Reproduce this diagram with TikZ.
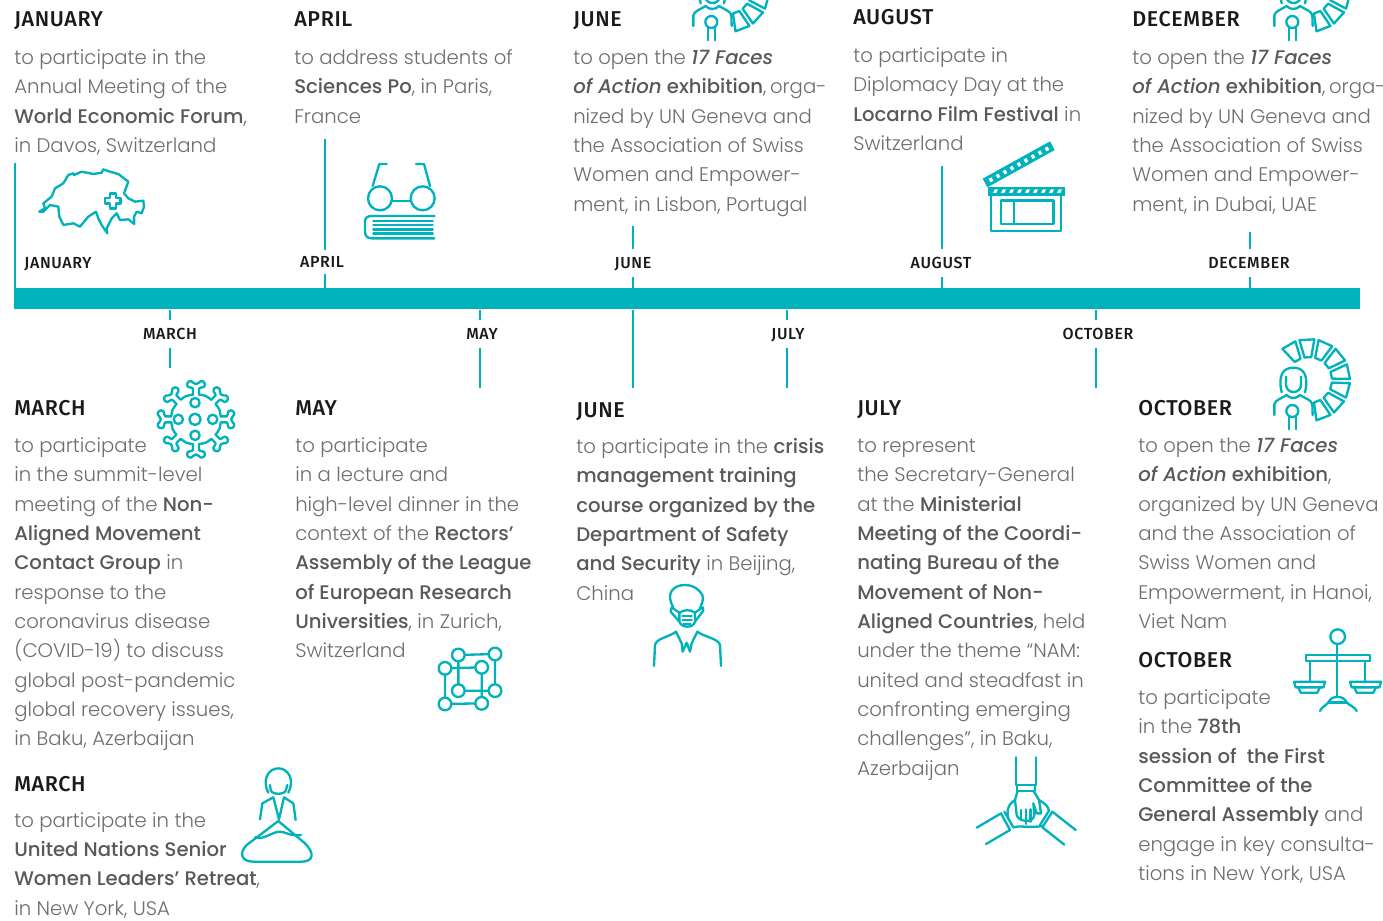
\documentclass[tikz,border=0pt]{standalone}
\usepackage{fontspec}
\setmainfont{Poppins}[UprightFont=* Light,ItalicFont=* Light Italic,BoldFont=* Medium,BoldItalicFont=* Medium Italic]
\newfontfamily\headfont{Fira Sans}[UprightFont=* Medium,LetterSpace=3]
\newfontfamily\tickfont{Fira Sans}[UprightFont=* Medium,LetterSpace=4]
\definecolor{teal1}{HTML}{00B2BB}
\definecolor{txtgrey}{HTML}{6D6E71}
\definecolor{boldgrey}{HTML}{58595B}
\definecolor{headblack}{HTML}{1A1A1A}
\newcommand{\fst}{\rule{0pt}{14pt}}
\newcommand{\bb}[1]{\textbf{\color{boldgrey}#1}}
\newcommand{\bi}[1]{\textbf{\itshape\color{boldgrey}#1}}
\tikzset{
 bodytext/.style={anchor=north west,inner sep=0pt,align=left,text=txtgrey,font=\fontsize{14.75}{22}\selectfont},
 heading/.style={anchor=base west,inner sep=0pt,text=headblack,font=\headfont\fontsize{16.1}{18}\selectfont},
 tlabel/.style={inner sep=0pt,minimum height=21pt,text height=8.6pt,text depth=0pt,text=headblack,font=\tickfont\fontsize{12}{13}\selectfont},
 tickline/.style={draw=teal1,line width=1.1pt},
 icon/.style={draw=teal1,line width=1.75pt,line join=round,line cap=round},
 barstyle/.style={fill=teal1,inner sep=0pt,minimum width=1009.5pt,minimum height=15.75pt,anchor=north west}
}
\newcommand{\blk}[4]{\node[bodytext] (#1) at (#2,#3-18.3) {\fst #4};}
\newcommand{\hd}[4]{\node[heading] (#1) at (#2,#3) {#4};}
\newcommand{\wheelperson}[1]{%
 \begin{scope}[shift={#1}]
  \begin{scope}[shift={(1309,380)}]
   \foreach \t in {-30,-3,24,51,78,105,132,159}{
    \draw[icon] ({\t-90-8.5}:23) -- ({\t-90-10.5}:41) -- ({\t-90+10.5}:41) -- ({\t-90+8.5}:23) -- cycle;
   }
  \end{scope}
  \begin{scope}[shift={(1265,335)},scale=1/3]
   \draw[icon] (50,172) .. controls (38,120) and (55,98) .. (85,98) .. controls (115,98) and (132,120) .. (120,172);
   \draw[icon] (63,125) -- (63,150) .. controls (65,178) and (106,178) .. (108,150) -- (108,125);
   \draw[icon] (28,240) -- (28,208) .. controls (30,195) and (50,190) .. (65,180) .. controls (75,192) and (95,192) .. (105,180) .. controls (120,190) and (140,195) .. (142,208) -- (143,240);
   \draw[icon] (82,228) circle[radius=18];
   \draw[icon] (72,246) -- (72,283) (92,246) -- (92,283);
  \end{scope}
 \end{scope}}
\begin{document}
\begin{tikzpicture}[x=0.75pt,y=-0.75pt]
\clip (0,0) rectangle (1383,920);
\fill[white] (0,0) rectangle (1383,920);

% Timeline bar
\node[barstyle] (bar) at (14,288) {};

% Tick labels
\node[tlabel] (lJan) at (58,263) {JANUARY};
\node[tlabel,minimum height=18pt] (lApr) at (322,262) {APRIL};
\node[tlabel] (lJun) at (633,263) {JUNE};
\node[tlabel] (lAug) at (941,263) {AUGUST};
\node[tlabel] (lDec) at (1249,263) {DECEMBER};
\node[tlabel] (lMar) at (170,334) {MARCH};
\node[tlabel] (lMay) at (482,334) {MAY};
\node[tlabel] (lJul) at (788,334) {JULY};
\node[tlabel] (lOct) at (1098,334) {OCTOBER};

% Tick ends
\coordinate (jan) at (15,163);
\coordinate (apr) at (325,139);
\coordinate (jun) at (633,226);
\coordinate (aug) at (942,166);
\coordinate (dec) at (1250,232);
\coordinate (mar) at (170,368);
\coordinate (may) at (480,388);
\coordinate (jun2) at (633,388);
\coordinate (jul) at (787,388);
\coordinate (oct) at (1096,388);

\draw[tickline] (jan) -- (bar.north -| jan);
\foreach \c/\l in {apr/lApr,jun/lJun,aug/lAug,dec/lDec}{
 \draw[tickline] (\c) -- (\l.north -| \c);
 \draw[tickline] (\l.south -| \c) -- (bar.north -| \c);
}
\foreach \c/\l in {mar/lMar,may/lMay,jul/lJul,oct/lOct}{
 \draw[tickline] (\c) -- (\l.south -| \c);
 \draw[tickline] (\l.north -| \c) -- (bar.south -| \c);
}
\draw[tickline] (jun2) -- (bar.south -| jun2);

% Top texts
\hd{hJan}{14}{27}{JANUARY}
\blk{bJan}{14}{64}{to participate in the\\Annual Meeting of the\\\bb{World Economic Forum},\\in Davos, Switzerland}
\hd{hApr}{294}{27}{APRIL}
\blk{bApr}{294}{64}{to address students of\\\bb{Sciences Po}, in Paris,\\France}
\hd{hJun}{573}{27}{JUNE}
\blk{bJun}{573}{64}{to open the \bi{17 Faces}\\\bi{of Action} \bb{exhibition}, \hspace{-1.5pt}orga-\\nized by UN Geneva and\\the Association of Swiss\\Women and Empower-\\ment, in Lisbon, Portugal}
\hd{hAug}{853}{25}{AUGUST}
\blk{bAug}{853}{62}{to participate in\\Diplomacy Day at the\\\bb{Locarno Film Festival} in\\Switzerland}
\hd{hDec}{1132}{27}{DECEMBER}
\blk{bDec}{1132}{64}{to open the \bi{17 Faces}\\\bi{of Action} \bb{exhibition}, \hspace{-1.5pt}orga-\\nized by UN Geneva and\\the Association of Swiss\\Women and Empower-\\ment, in Dubai, UAE}

% Bottom texts
\hd{hMar}{14}{415}{MARCH}
\blk{bMar}{14}{452}{to participate\\in the summit-level\\meeting of the \bb{Non-}\\\bb{Aligned Movement}\\\bb{Contact Group} in\\response to the\\coronavirus disease\\(COVID-19) to discuss\\global post-pandemic\\global recovery issues,\\in Baku, Azerbaijan}
\hd{hMarB}{14}{791}{MARCH}
\blk{bMarB}{14}{826.5}{to participate in the\\\bb{United Nations Senior}\\\bb{Women Leaders’ Retreat},\\in New York, USA}
\hd{hMay}{295}{415}{MAY}
\blk{bMay}{295}{452}{to participate\\in a lecture and\\high-level dinner in the\\context of the \bb{Rectors’}\\\bb{Assembly of the League}\\\bb{of European Research}\\\bb{Universities}, in Zurich,\\Switzerland}
\hd{hJunB}{576}{417}{JUNE}
\blk{bJunB}{576}{453}{to participate in the \bb{crisis}\\\bb{management training}\\\bb{course organized by the}\\\bb{Department of Safety}\\\bb{and Security} in Beijing,\\China}
\hd{hJul}{857}{415}{JULY}
\blk{bJul}{857}{452}{to represent\\the Secretary-General\\at the \bb{Ministerial}\\\bb{Meeting of the Coordi-}\\\bb{nating Bureau of the}\\\bb{Movement of Non-}\\\bb{Aligned Countries}, held\\under the theme “NAM:\\united and steadfast in\\confronting emerging\\challenges”, in Baku,\\Azerbaijan}
\hd{hOct}{1138}{415}{OCTOBER}
\blk{bOct}{1138}{452}{to open the \bi{17 Faces}\\\bi{of Action} \bb{exhibition},\\organized by UN Geneva\\and the Association of\\Swiss Women and\\Empowerment, in Hanoi,\\Viet Nam}
\hd{hOctB}{1138}{667}{OCTOBER}
\blk{bOctB}{1138}{704}{to participate\\in the \bb{78th}\\\bb{session of\ \ the First}\\\bb{Committee of the}\\\bb{General Assembly} and\\engage in key consulta-\\tions in New York, USA}

% Switzerland
\begin{scope}[shift={(0,150)},scale=1/3]
 \draw[icon] (118,185) -- (135,175) -- (130,160) -- (155,140) -- (165,115) -- (190,100) -- (205,75) -- (220,70) -- (222,75) -- (245,65) -- (280,72) -- (305,68) -- (310,58) -- (330,65) -- (355,72) -- (385,95) -- (372,130) -- (385,145) -- (405,155) -- (430,152) -- (432,170) -- (425,190) -- (410,185) -- (402,200) -- (403,222) -- (385,208) -- (360,210) -- (350,190) -- (335,205) -- (320,235) -- (322,250) -- (315,240) -- (305,225) -- (295,205) -- (288,185) -- (265,200) -- (240,230) -- (220,220) -- (190,225) -- (178,200) -- (175,170) -- (150,165) -- (130,185) -- cycle;
 \draw[icon] (329,130) -- (347,130) -- (347,143) -- (361,143) -- (361,160) -- (347,160) -- (347,175) -- (329,175) -- (329,160) -- (315,160) -- (315,143) -- (329,143) -- cycle;
\end{scope}

% Glasses and book
\begin{scope}[shift={(0,150)},scale=1/3]
 \draw[icon] (1140,145) circle[radius=36] (1268,145) circle[radius=36];
 \draw[icon] (1176,152) -- (1232,152);
 \draw[icon] (1118,108) -- (1138,42) -- (1160,42);
 \draw[icon] (1290,108) -- (1272,42) -- (1248,42);
 \draw[icon] (1303,198) -- (1115,198) .. controls (1100,198) and (1095,205) .. (1095,215) -- (1095,245) .. controls (1095,258) and (1102,265) .. (1115,265) -- (1303,265);
 \draw[icon] (1120,212) -- (1298,212) (1120,224) -- (1298,224) (1120,238) -- (1298,238) (1120,250) -- (1298,250);
\end{scope}

% Clapperboard
\begin{scope}[shift={(970,130)},scale=1/3]
 \draw[icon] (62,195) rectangle (272,303);
 \draw[icon] (92,212) rectangle (250,283);
 \draw[icon] (132,212) -- (132,283);
 \fill[teal1] (55,170) rectangle (285,197);
 \foreach \i in {0,...,8}{
  \fill[white] ({74+\i*24},178) -- ({84+\i*24},178) -- ({79+\i*24},189) -- ({69+\i*24},189) -- cycle;
 }
 \fill[teal1] (38,146) -- (240,34) -- (254,60) -- (52,172) -- cycle;
 \foreach \i in {0,...,8}{
  \fill[white] ({56+\i*21},{147-\i*11.6}) -- ({64+\i*21},{142-\i*11.6}) -- ({70+\i*21},{152-\i*11.6}) -- ({62+\i*21},{157-\i*11.6}) -- cycle;
 }
\end{scope}

% Wheel + person icons
\wheelperson{(-581,-389)}
\wheelperson{(0,-389)}
\wheelperson{(0,0)}

% Virus
\begin{scope}[shift={(140,370)},scale=1/3]
 \draw[icon] (165,148) circle[radius=17];
 \draw[icon] (165,98) circle[radius=14] (165,196) circle[radius=14] (115,148) circle[radius=14] (218,148) circle[radius=14];
 \foreach \r in {0,45,...,315}{
  \begin{scope}[shift={(168,148)},rotate=\r]
   \draw[icon] (-9,-74) -- (-9,-92) .. controls (-12,-98) and (-26,-92) .. (-27,-104) .. controls (-27,-116) and (-12,-118) .. (-9,-110) .. controls (-4,-104) and (4,-104) .. (9,-110) .. controls (12,-118) and (27,-116) .. (27,-104) .. controls (26,-92) and (12,-98) .. (9,-92) -- (9,-74) .. controls (28,-72) .. (46,-58.7);
  \end{scope}
 }
\end{scope}

% Woman on mountain
\begin{scope}[shift={(230,760)},scale=1/3]
 \draw[icon] (115,98) .. controls (95,60) and (115,25) .. (145,25) .. controls (175,25) and (195,60) .. (175,98);
 \draw[icon] (120,75) -- (122,90) .. controls (125,105) and (165,105) .. (168,90) -- (172,75);
 \draw[icon] (90,178) -- (97,130) -- (130,112) -- (147,178) -- (162,112) -- (190,130) -- (197,180);
 \draw[icon] (145,183) -- (225,250) .. controls (255,280) and (250,305) .. (215,305) -- (70,305) .. controls (35,305) and (25,280) .. (50,255) -- cycle;
 \draw[icon] (75,232) .. controls (100,240) and (120,220) .. (145,215) .. controls (170,215) and (180,230) .. (213,225);
\end{scope}

% Cube
\begin{scope}[shift={(430,640)},scale=1/3]
 \draw[icon] (85,45) -- (195,42) -- (195,152) -- (85,152) -- cycle;
 \draw[icon] (45,85) -- (155,82) -- (155,190) -- (45,192) -- cycle;
 \foreach \p in {(85,45),(195,42),(85,152),(195,152),(45,85),(155,82),(45,192),(155,190)}{
  \path[icon,fill=white] \p circle[radius=19];
 }
\end{scope}

% Person with mask
\begin{scope}[shift={(640,580)},scale=1/3]
 \draw[icon] (100,82) .. controls (75,40) and (100,15) .. (135,15) .. controls (160,15) and (180,30) .. (187,45) .. controls (192,60) and (185,70) .. (180,85);
 \draw[icon] (118,98) .. controls (135,88) and (150,88) .. (165,98) -- (165,125) .. controls (160,145) and (125,145) .. (118,125) -- cycle;
 \draw[icon] (118,98) -- (95,82) -- (92,95) -- (118,125);
 \draw[icon] (165,98) -- (188,82) -- (190,92) -- (165,125);
 \draw[icon,line width=1pt] (126,108) -- (156,108) (126,120) -- (156,120) (130,132) -- (152,132);
 \draw[icon] (42,258) -- (45,195) .. controls (48,175) and (90,170) .. (108,155) -- (125,190) -- (128,215) -- (140,188) -- (150,215) -- (155,190) -- (172,155) .. controls (190,170) and (235,175) .. (240,195) -- (243,258);
\end{scope}

% Hands
\begin{scope}[shift={(965,750)},scale=1/3]
 \draw[icon] (153,22) -- (153,105) (212,22) -- (212,105);
 \draw[icon] (155,105) rectangle (210,122);
 \draw[icon] (158,122) -- (150,150) -- (155,195) .. controls (160,215) and (205,222) .. (208,195) -- (205,160) -- (215,190) -- (228,190) -- (222,150) -- (205,122);
 \draw[icon] (168,180) -- (168,210) (182,178) -- (182,222) (196,178) -- (196,215);
 \draw[icon] (35,233) -- (108,190) -- (135,240) -- (63,282);
 \draw[icon] (118,185) -- (145,232);
 \draw[icon] (150,150) .. controls (125,165) and (125,190) .. (130,205);
 \draw[icon] (145,232) .. controls (165,225) and (185,235) .. (232,228);
 \draw[icon] (332,240) -- (262,185) -- (232,232) -- (298,284);
 \draw[icon] (252,182) -- (225,225);
 \draw[icon] (222,150) .. controls (240,160) and (250,170) .. (252,182);
\end{scope}

% Scales
\begin{scope}[shift={(1285,625)},scale=1/3]
 \draw[icon] (158,35) circle[radius=22];
 \draw[icon] (155,57) -- (155,212);
 \draw[icon] (62,90) rectangle (255,108);
 \draw[icon] (75,108) -- (75,168) (240,108) -- (240,168);
 \foreach \d in {0,168}{
  \draw[icon] ({27+\d},170) -- ({120+\d},170) -- ({115+\d},187) -- ({32+\d},187) -- cycle;
  \draw[icon] ({40+\d},187) -- ({47+\d},203) -- ({97+\d},203) -- ({105+\d},187);
 }
 \draw[icon] (105,258) .. controls (110,245) and (125,240) .. (130,232) .. controls (140,210) and (175,210) .. (185,232) .. controls (190,240) and (210,245) .. (215,258);
 \draw[icon] (130,232) -- (185,232);
\end{scope}
\end{tikzpicture}
\end{document}
